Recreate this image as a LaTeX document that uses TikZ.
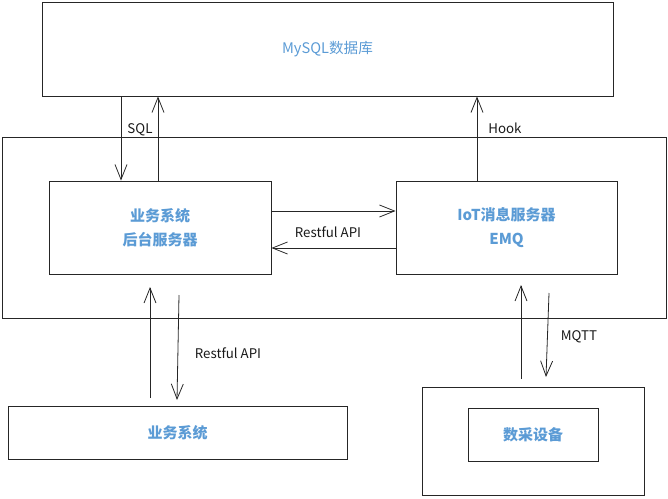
\documentclass[tikz,border=0pt]{standalone}
\usepackage{fontspec}
\setmainfont{Noto Sans CJK SC}
\usetikzlibrary{arrows.meta}
\definecolor{txtblue}{HTML}{5B9BD5}
\definecolor{linec}{HTML}{262626}
\begin{document}
\begin{tikzpicture}[x=1pt,y=-1pt,
  box/.style={draw=linec, line width=0.9pt, rectangle, inner sep=0pt},
  arr/.style={draw=linec, line width=0.8pt, -{Straight Barb[length=15pt,width=12pt,line width=0.8pt]}},
  lbl/.style={font=\fontsize{13.3}{16}\selectfont, text=black!90, inner sep=0pt},
  btxt/.style={font=\fontsize{15}{24}\selectfont\bfseries, text=txtblue, align=center}]
\useasboundingbox (0,0) rectangle (668,498);
\node[box, minimum width=664pt, minimum height=181pt] (big) at (334,227.5) {};
\node[box, minimum width=571pt, minimum height=94pt, font=\fontsize{14.6}{17}\selectfont, text=txtblue] (mysql) at (327.5,49) {MySQL数据库};
\node[box, minimum width=222pt, minimum height=93pt, btxt] (app) at (160,227.5) {业务系统\\后台服务器};
\node[box, minimum width=221pt, minimum height=93pt, btxt] (emq) at (506.5,227.5) {IoT消息服务器\\EMQ};
\node[box, minimum width=339pt, minimum height=53pt, btxt] (biz) at (177.5,432.5) {业务系统};
\node[box, minimum width=222pt, minimum height=108pt] (devo) at (533,441) {};
\node[box, minimum width=130pt, minimum height=53pt, btxt] (devi) at (533,434.5) {数采设备};
% helper coordinates
\coordinate (xa) at (121,0);
\coordinate (xb) at (158,0);
\coordinate (xh) at (477,0);
\coordinate (ya) at (0,211);
\coordinate (yb) at (0,248);
\coordinate (r1s) at (150,398);
\coordinate (r1e) at (150,287);
\coordinate (r2s) at (179,295);
\coordinate (r2e) at (177,400);
\coordinate (m1s) at (521,379);
\coordinate (m1e) at (521,285);
\coordinate (m2s) at (549,293);
\coordinate (m2e) at (546,377);
% connectors
\draw[arr] (mysql.south -| xa) -- (app.north -| xa);
\draw[arr] (app.north -| xb) -- (mysql.south -| xb);
\draw[arr] (emq.north -| xh) -- (mysql.south -| xh);
\draw[arr] (app.east |- ya) -- (emq.west |- ya);
\draw[arr] (emq.west |- yb) -- (app.east |- yb);
\draw[arr] (r1s) -- (r1e);
\draw[arr] (r2s) -- (r2e);
\draw[arr] (m1s) -- (m1e);
\draw[arr] (m2s) -- (m2e);
% labels
\node[lbl] (lsql) at (140,130) {SQL};
\node[lbl] (lhook) at (505,128) {Hook};
\node[lbl] (lrest1) at (328,232) {Restful API};
\node[lbl] (lrest2) at (228,353) {Restful API};
\node[lbl] (lmqtt) at (579,337) {MQTT};
\end{tikzpicture}
\end{document}
